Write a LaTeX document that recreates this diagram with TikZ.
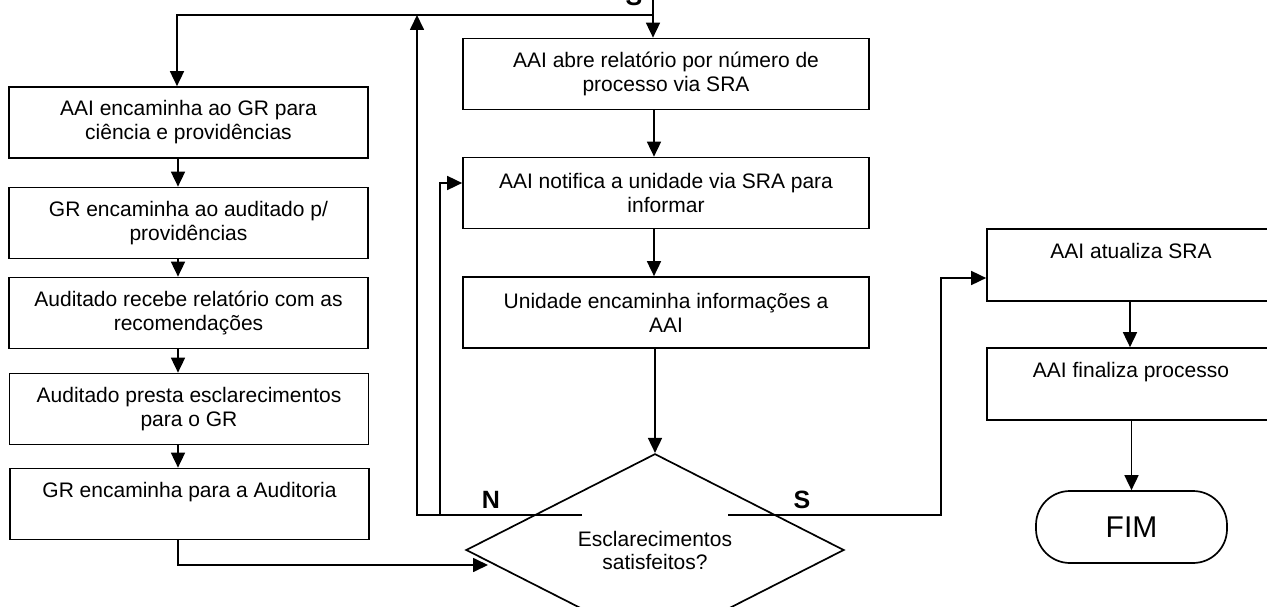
\documentclass[tikz,border=0pt]{standalone}
\usepackage{fontspec}
\setmainfont{Liberation Sans}
\usetikzlibrary{shapes.geometric,arrows.meta}
\begin{document}
\begin{tikzpicture}[x=1pt,y=-1pt,
  box/.style={draw, line width=1.7pt, rectangle, inner sep=0pt, align=center,
              font=\fontsize{21}{24}\selectfont},
  lbox/.style={box, minimum width=359pt, minimum height=71pt},
  cbox/.style={box, minimum width=406pt, minimum height=71pt},
  rbox/.style={box, minimum width=288pt, minimum height=72pt},
  arr/.style={line width=1.7pt, -{Triangle[length=15pt,width=14pt]}},
  lbl/.style={font=\fontsize{25}{30}\selectfont\bfseries, inner sep=0pt}]
\useasboundingbox (0,0) rectangle (1267,607);

% left column
\node[lbox] (L1) at (188.5,122.5) {AAI encaminha ao GR para\\ciência e providências};
\node[lbox] (L2) at (188.5,223) {GR encaminha ao auditado p/\\providências};
\node[lbox] (L3) at (188.5,313) {Auditado recebe relatório com as\\recomendações};
\node[lbox] (L4) at (189,409) {Auditado presta esclarecimentos\\para o GR};
\node[lbox] (L5) at (189.5,504) {GR encaminha para a Auditoria\\\vphantom{p}};

% center column
\node[cbox] (C1) at (666,74) {AAI abre relatório por número de\\processo via SRA};
\node[cbox] (C2) at (666,193) {AAI notifica a unidade via SRA para\\informar};
\node[cbox] (C3) at (666,312.5) {Unidade encaminha informações a\\AAI};

% decision
\node[diamond, draw, line width=1.7pt, minimum width=378pt, minimum height=114pt,
      inner sep=0pt, align=center, font=\fontsize{21}{23}\selectfont]
      (D) at (655,550) {Esclarecimentos\\satisfeitos?};

% right column
\node[rbox] (R1) at (1131,265) {AAI atualiza SRA\\\vphantom{p}};
\node[rbox] (R2) at (1131,384) {AAI finaliza processo\\\vphantom{p}};
\node[draw, line width=1.7pt, rounded corners=34pt, minimum width=191pt,
      minimum height=72pt, inner sep=0pt, font=\fontsize{30}{36}\selectfont]
      (F) at (1131.5,527) {FIM};

% labels
\node[lbl, anchor=base] (N) at (491,508) {N};
\node[lbl, anchor=base] (S) at (802,508) {S};
\node[lbl, anchor=base] (S0) at (634,6) {S};

% helper coordinates
\coordinate (tp) at (653,-5);
\coordinate (jt) at (653,15);
\coordinate (jl) at (177,15);
\coordinate (lx) at (178,0);
\coordinate (cx) at (654,0);
\coordinate (dIn) at (488,565);
\coordinate (nStart) at (582,515);
\coordinate (nOut) at (417,515);
\coordinate (nIn) at (440,515);
\coordinate (ay) at (0,183);
\coordinate (sStart) at (728,515);
\coordinate (sOut) at (941,515);
\coordinate (by) at (0,278);
\coordinate (rx) at (1130,0);

% top entry and branch to left column
\draw[arr] (tp) -- (tp |- C1.north);
\draw[arr] (jt) -- (jl) -- (jl |- L1.north);

% left column flow
\draw[arr] (lx |- L1.south) -- (lx |- L2.north);
\draw[arr] (lx |- L2.south) -- (lx |- L3.north);
\draw[arr] (lx |- L3.south) -- (lx |- L4.north);
\draw[arr] (lx |- L4.south) -- (lx |- L5.north);
\draw[arr] (lx |- L5.south) |- (dIn);

% center column flow
\draw[arr] (cx |- C1.south) -- (cx |- C2.north);
\draw[arr] (cx |- C2.south) -- (cx |- C3.north);
\draw[arr] (D.north |- C3.south) -- (D.north);

% N branch
\draw[arr] (nStart) -- (nOut) -- (nOut |- jt);
\draw[arr] (nIn) |- (C2.west |- ay);

% S branch
\draw[arr] (sStart) -- (sOut) |- (R1.west |- by);

% right column flow
\draw[arr] (rx |- R1.south) -- (rx |- R2.north);
\draw[arr] (F.north |- R2.south) -- (F.north);
\end{tikzpicture}
\end{document}
